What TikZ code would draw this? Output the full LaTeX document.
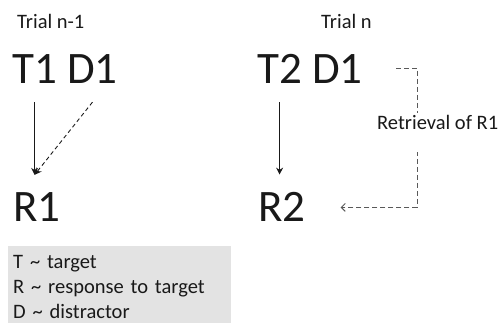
\documentclass[tikz,border=0pt]{standalone}
\usepackage{fontspec}
\setmainfont{Carlito}
\usetikzlibrary{arrows.meta,positioning,calc}

\begin{document}
\begin{tikzpicture}[
    x=1pt, y=-1pt,
    big/.style={font=\fontsize{45}{54}\selectfont, text=black!90, inner xsep=0pt, inner ysep=18pt, anchor=base west},
    small/.style={font=\fontsize{20.5}{25}\selectfont, text=black!90, inner sep=0pt, anchor=base west},
    resp/.style={-{Stealth[length=7pt, width=7pt]}, line width=0.9pt, color=black!90},
    dist/.style={-{Stealth[length=7pt, width=7pt]}, line width=0.9pt, color=black!90, dash pattern=on 4pt off 3pt},
    retr/.style={-{Straight Barb[length=4pt, width=8pt]}, line width=0.9pt, color=black!65, dash pattern=on 5pt off 3pt},
    legend/.style={fill=black!11, anchor=north west, inner xsep=5pt, inner ysep=9pt, text width=213pt, align=left, font=\fontsize{20.5}{25}\selectfont, text=black!90},
]
\useasboundingbox (0,0) rectangle (499,323);
% trial n-1
\node[small] (trialA) at (17,29) {Trial n-1};
\node[big] (T1) at (12,84) {T1};
\node[big] (D1a) at (67,84) {D1};
\node[big] (R1) at (13,222) {R1};
\draw[resp] (T1.south) -- (T1.south |- R1.north);
\draw[dist] (D1a.south) -- (T1.south |- R1.north);
% trial n
\node[small] (trialB) at (321,29) {Trial n};
\node[big] (T2) at (257,84) {T2};
\node[big] (D1b) at (312,84) {D1};
\node[big] (R2) at (258,222) {R2};
\draw[resp] (T2.south) -- (T2.south |- R2.north);
% retrieval
\coordinate (retrStart) at (396,68);
\coordinate (retrCorner) at (417,68);
\draw[retr, shorten >=35pt] (retrStart) -- (retrCorner) |- (R2.east);
\node[small, fill=white, inner xsep=2pt, inner ysep=3pt, text height=14pt, text depth=19pt] (retrLabel) at (375,130) {Retrieval of R1};
% legend
\node[legend] (legend) at (8,246) {T \textasciitilde{} target\\R \textasciitilde{} response to target\\D \textasciitilde{} distractor};
\end{tikzpicture}
\end{document}
